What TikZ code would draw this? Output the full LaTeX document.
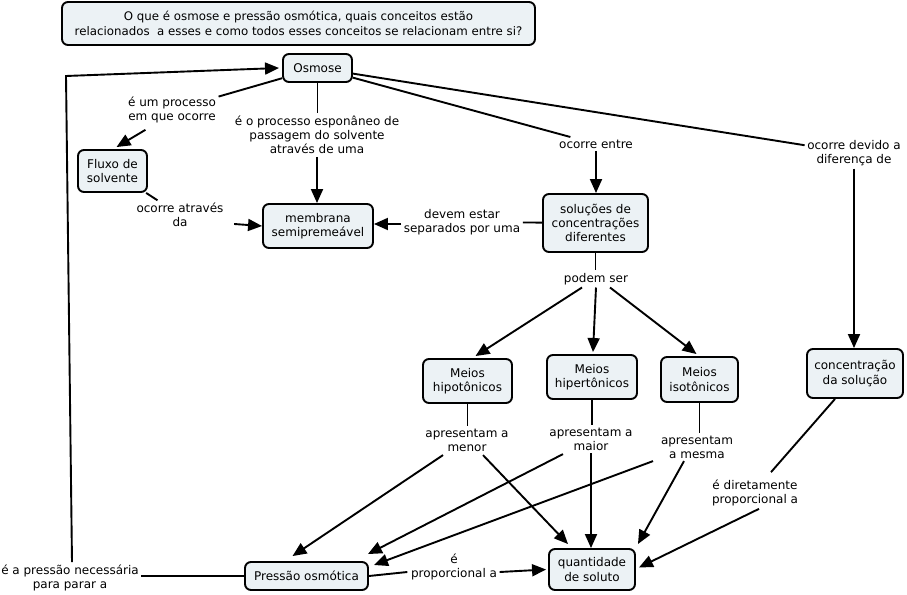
\documentclass[tikz,border=0pt]{standalone}
\usepackage{fontspec}
\setmainfont{DejaVu Sans}
\usetikzlibrary{arrows.meta,calc}
\definecolor{boxfill}{RGB}{236,242,245}
\newcommand\lblfont{\fontsize{12bp}{14.2bp}\selectfont}
\newcommand\ttlfont{\fontsize{11.8bp}{15.5bp}\selectfont}
\tikzset{
  cbox/.style={draw, line width=1.9bp, rounded corners=6bp, fill=boxfill, align=center, inner sep=0pt, font=\lblfont},
  lbl/.style={align=center, inner sep=2.5bp, font=\lblfont},
  conn/.style={line width=1.9bp},
  arr/.style={conn, -{Triangle[length=14bp,width=12bp]}}
}
\begin{document}
\begin{tikzpicture}[x=1bp,y=-1bp]
\fill[white] (0,0) rectangle (907,595);
\useasboundingbox (0,0) rectangle (907,595);
% concept boxes
\node[cbox, font=\ttlfont, minimum width=473bp, minimum height=43bp] (title) at (298.5,23.5) {O que é osmose e pressão osmótica, quais conceitos estão\\relacionados\ \ a esses e como todos esses conceitos se relacionam entre si?};
\node[cbox, minimum width=69bp, minimum height=28bp] (osmose) at (317.5,68) {Osmose};
\node[cbox, minimum width=69bp, minimum height=42bp] (fluxo) at (112.5,171) {Fluxo de\\solvente};
\node[cbox, minimum width=110bp, minimum height=44bp] (membrana) at (318,226) {membrana\\semipremeável};
\node[cbox, minimum width=105bp, minimum height=58bp] (solucoes) at (595.5,223) {soluções de\\concentrações\\diferentes};
\node[cbox, minimum width=89bp, minimum height=44bp] (hipo) at (467.5,381) {Meios\\hipotônicos};
\node[cbox, minimum width=90bp, minimum height=44bp] (hiper) at (592,377) {Meios\\hipertônicos};
\node[cbox, minimum width=77bp, minimum height=45bp] (iso) at (699.5,379.5) {Meios\\isotônicos};
\node[cbox, minimum width=96bp, minimum height=49bp] (conc) at (855,373.5) {concentração\\da solução};
\node[cbox, minimum width=123bp, minimum height=28bp] (pressao) at (306.5,576) {Pressão osmótica};
\node[cbox, minimum width=86bp, minimum height=41bp] (quant) at (592,569.5) {quantidade\\de soluto};
% linking phrases
\node[lbl] (l1) at (172,110) {é um processo\\em que ocorre};
\node[lbl] (l2) at (317,135) {é o processo esponâneo de\\passagem do solvente\\através de uma};
\node[lbl] (l3) at (596,144) {ocorre entre};
\node[lbl] (l4) at (854,153) {ocorre devido a\\diferença de};
\node[lbl] (l5) at (180,215) {ocorre através\\da};
\node[lbl] (l6) at (462,222) {devem estar\\separados por uma};
\node[lbl] (l7) at (596,279) {podem ser};
\node[lbl] (l8) at (467,440) {apresentam a\\menor};
\node[lbl] (l9) at (591,439) {apresentam a\\maior};
\node[lbl] (l10) at (697,447) {apresentam\\a mesma};
\node[lbl] (l11) at (755,493) {é diretamente\\proporcional a};
\node[lbl] (l12) at (70,578) {é a pressão necessária\\para parar a};
\node[lbl] (l13) at (454,567) {é\\proporcional a};
\coordinate (corner) at (66,76);
% connectors
\draw[conn] (osmose) -- (l1);
\draw[arr] ([shift={(20,4)}]l1.south west) -- ([shift={(4,-2)}]fluxo.north);
\draw[conn] (osmose.south) -- (osmose.south |- l2.north);
\draw[arr] (l2.south) -- (l2.south |- membrana.north);
\draw[conn] (osmose) -- (l3);
\draw[arr] (l3.south) -- (l3.south |- solucoes.north);
\draw[conn] (osmose) -- (l4);
\draw[arr] (l4.south) -- (l4.south |- conc.north);
\draw[conn] (fluxo) -- (l5);
\draw[arr] ([shift={(8,9)}]l5.east) -- (membrana.west);
\draw[conn] (solucoes) -- (l6);
\draw[arr] ([shift={(0,2)}]l6.west) -- ([shift={(0,-2)}]membrana.east);
\draw[conn] (solucoes.south) -- (solucoes.south |- l7.north);
\draw[arr] ([shift={(-14,0)}]l7.south) -- ([shift={(8,-2)}]hipo.north);
\draw[arr] (l7.south) -- ([shift={(1,-2)}]hiper.north);
\draw[arr] ([shift={(14,0)}]l7.south) -- ([shift={(-3,-2)}]iso.north);
\draw[conn] (hipo.south) -- (hipo.south |- l8.north);
\draw[arr] ([shift={(-24,1)}]l8.south) -- ([shift={(-14,-5)}]pressao.north);
\draw[arr] ([shift={(16,1)}]l8.south) -- ([shift={(-24,-4)}]quant.north);
\draw[conn] (hiper.south) -- (hiper.south |- l9.north);
\draw[arr] ([shift={(-28,1)}]l9.south) -- ([shift={(-1,-7)}]pressao.north east);
\draw[arr] (l9.south) -- (l9.south |- quant.north);
\draw[conn] (iso.south) -- (iso.south |- l10.north);
\draw[arr] ([shift={(-44,0)}]l10.south) -- ([shift={(5,-11)}]pressao.east);
\draw[arr] ([shift={(-13,0)}]l10.south) -- ([shift={(2,-4)}]quant.north east);
\draw[conn] ([shift={(-20,0)}]conc.south) -- ([shift={(16,-5)}]l11.north);
\draw[arr] ([shift={(4,0)}]l11.south) -- ([shift={(3,-2)}]quant.east);
\draw[conn] (pressao.east) -- ([shift={(-1,5)}]l13.west);
\draw[arr] ([shift={(0,5)}]l13.east) -- ([shift={(-2,0)}]quant.west);
\draw[conn] (pressao.west) -- (pressao.west -| l12.east);
\draw[arr] ([shift={(2,0)}]l12.north) -- (corner) -- ([shift={(-3,0)}]osmose.west);
\end{tikzpicture}
\end{document}
